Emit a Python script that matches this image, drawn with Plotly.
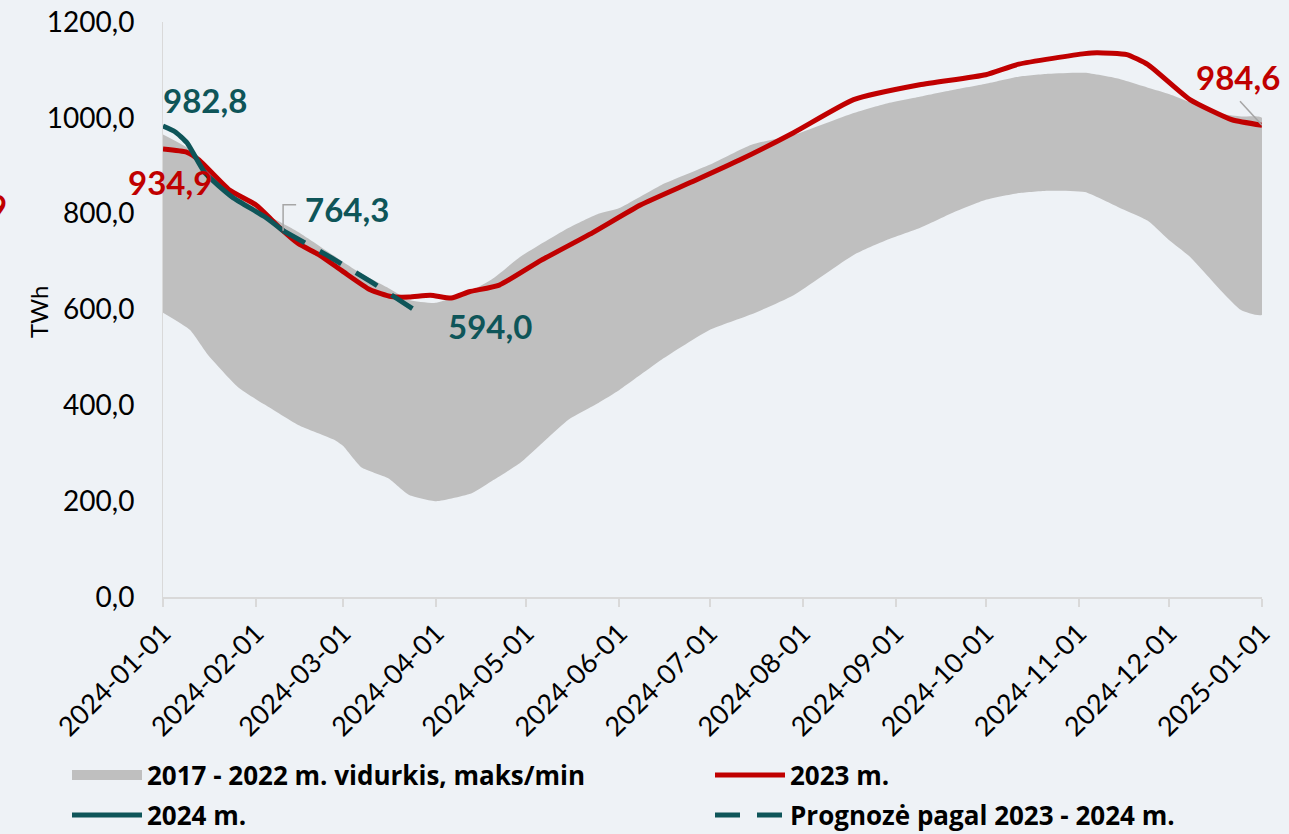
import plotly.graph_objects as go

# ---- data ----
band_dates = ["2024-01-01","2024-01-10","2024-01-16","2024-01-26","2024-02-04","2024-02-15",
              "2024-02-27","2024-03-01","2024-03-07","2024-03-16","2024-03-23","2024-04-01",
              "2024-04-13","2024-04-20","2024-04-29","2024-05-15","2024-05-25","2024-06-01",
              "2024-06-15","2024-07-01","2024-07-15","2024-07-29","2024-08-18","2024-08-29",
              "2024-09-09","2024-09-20","2024-10-01","2024-10-12","2024-10-22","2024-11-03",
              "2024-11-14","2024-11-24","2024-12-01","2024-12-08","2024-12-19","2024-12-25",
              "2025-01-01"]
band_max = [965, 933, 875, 835, 800, 762,
            712, 699, 675, 645, 620, 614,
            640, 665, 710, 770, 800, 812,
            860, 902, 944, 964, 1010, 1030,
            1044, 1058, 1071, 1086, 1092, 1094,
            1082, 1063, 1050, 1033, 1008, 1003,
            1000]
band_min = [593, 557, 505, 438, 401, 359,
            328, 315, 271, 248, 213, 200,
            217, 244, 280, 370, 405, 432,
            495, 557, 590, 630, 714, 745,
            770, 802, 829, 843, 848, 845,
            814, 785, 745, 710, 635, 599,
            589]

y2023_dates = ["2024-01-01","2024-01-09","2024-01-13","2024-01-23","2024-02-01","2024-02-09",
               "2024-02-15","2024-02-22","2024-03-01","2024-03-10","2024-03-17","2024-03-23",
               "2024-03-30","2024-04-06","2024-04-12","2024-04-22","2024-05-06","2024-05-23",
               "2024-06-08","2024-06-25","2024-07-11","2024-07-29","2024-08-18","2024-09-09",
               "2024-10-01","2024-10-12","2024-11-03","2024-11-07","2024-11-17","2024-11-24",
               "2024-12-08","2024-12-22","2025-01-01"]
y2023 = [934.9, 928, 912, 850, 818, 770,
         738, 714, 679, 641, 627, 626,
         630, 624, 637, 651, 703, 760,
         818, 866, 912, 969, 1038, 1069,
         1090, 1112, 1134, 1136, 1132, 1111,
         1038, 996, 984.6]

y2024_dates = ["2024-01-01","2024-01-05","2024-01-09","2024-01-15","2024-01-24","2024-02-04","2024-02-10"]
y2024 = [982.8, 971, 948, 885, 835, 793, 764.3]

fc_dates = ["2024-02-10","2024-02-25","2024-03-11","2024-03-26"]
fc_values = [764.3, 712, 655, 594.0]

x_ticks = ["2024-%02d-01" % m for m in range(1, 13)] + ["2025-01-01"]
y_ticks = [0, 200, 400, 600, 800, 1000, 1200]
y_tick_text = ["%d,0" % v for v in y_ticks]

names = ["2017 - 2022 m. vidurkis, maks/min", "2023 m.", "2024 m.", "Prognozė pagal 2023 - 2024 m."]


def fmt(v):
    return ("%.1f" % v).replace(".", ",")


RED = "#C00000"
TEAL = "#0E5559"
GRAY = "#BFBFBF"
BG = "#EEF2F6"
FONT = "Lato"

# plot-area geometry in pixels
FW, FH = 1289, 834
L, R, T, B = 163, 27, 22, 237
W = FW - L - R
H = FH - T - B


def px(xp):
    return (xp - L) / W


def py(yp):
    return (FH - B - yp) / H


fig = go.Figure()
fig.add_trace(go.Scatter(
    x=band_dates + band_dates[::-1], y=band_max + band_min[::-1],
    fill="toself", fillcolor=GRAY, line=dict(width=0, color=GRAY, shape="spline", smoothing=0.5),
    mode="lines", showlegend=False, hoverinfo="skip"))
fig.add_trace(go.Scatter(x=y2023_dates, y=y2023, mode="lines", name=names[1], legend="legend2",
                         line=dict(color=RED, width=5, shape="spline", smoothing=0.5)))
fig.add_trace(go.Scatter(x=y2024_dates, y=y2024, mode="lines", name=names[2], legend="legend3",
                         line=dict(color=TEAL, width=5, shape="spline", smoothing=0.5)))
fig.add_trace(go.Scatter(x=fc_dates, y=fc_values, mode="lines", name=names[3], legend="legend4",
                         line=dict(color=TEAL, width=5, dash="25px,17px")))
# legend swatch for band
fig.add_trace(go.Scatter(x=[None], y=[None], mode="lines", name=names[0], legend="legend",
                         line=dict(color=GRAY, width=18)))

lab_font = dict(family=FONT, size=33, color=TEAL, weight="bold")
ann = []
ann.append(dict(x=y2024_dates[0], y=y2024[0], text=fmt(y2024[0]), showarrow=False,
                xshift=42, yshift=26, font=lab_font))
ann.append(dict(x=y2023_dates[0], y=y2023[0], text=fmt(y2023[0]), showarrow=False,
                xshift=7, yshift=-33, font=dict(lab_font, color=RED)))
ann.append(dict(x=fc_dates[0], y=fc_values[0], text=fmt(fc_values[0]), showarrow=False,
                xshift=64, yshift=22, font=lab_font))
ann.append(dict(x=fc_dates[-1], y=fc_values[-1], text=fmt(fc_values[-1]), showarrow=False,
                xshift=72, yshift=-14, font=lab_font))
ann.append(dict(x=y2023_dates[-1], y=y2023[-1], text=fmt(y2023[-1]), showarrow=False,
                xshift=-24, yshift=48, font=dict(lab_font, color=RED)))
ann.append(dict(xref="paper", yref="paper", x=px(9), y=py(206),
                xanchor="right", yanchor="middle", text="9", showarrow=False,
                font=dict(lab_font, color=RED)))
ann.append(dict(xref="paper", yref="paper", x=px(38), y=py(312),
                xanchor="center", yanchor="middle",
                text="TWh", textangle=-90, showarrow=False,
                font=dict(family=FONT, size=24, color="black")))

shapes = [
    dict(type="path", xref="x", yref="y", xsizemode="pixel", ysizemode="pixel",
         xanchor=fc_dates[0], yanchor=fc_values[0], path="M 0 0 L 0 26 L 13 26",
         line=dict(color="#A6A6A6", width=1.5)),
    dict(type="path", xref="x", yref="y", xsizemode="pixel", ysizemode="pixel",
         xanchor=y2023_dates[-1], yanchor=y2023[-1], path="M 0 0 L -22 24",
         line=dict(color="#A6A6A6", width=1.5)),
]

leg_font = dict(family="Open Sans", size=26, weight="bold", color="black")


def leg(xp, yp):
    return dict(orientation="v", xref="paper", yref="container",
                x=px(xp), y=1 - yp / FH, xanchor="left", yanchor="middle",
                font=leg_font, bgcolor="rgba(0,0,0,0)", itemwidth=70, borderwidth=0)


fig.update_layout(
    width=FW, height=FH,
    margin=dict(l=L, r=R, t=T, b=B),
    paper_bgcolor=BG, plot_bgcolor=BG,
    font=dict(family=FONT, color="black"),
    annotations=ann, shapes=shapes,
    showlegend=True,
    legend=leg(67, 775),
    legend2=leg(710, 775),
    legend3=leg(67, 815),
    legend4=leg(710, 815),
)
fig.update_xaxes(range=["2024-01-01", "2025-01-01"], tickvals=x_ticks, ticktext=x_ticks,
                 tickangle=-45, tickfont=dict(family=FONT, size=27, color="black"),
                 showgrid=False, zeroline=False, showline=True, linecolor="#D9D9D9", linewidth=1.5,
                 ticks="outside", ticklen=8, tickcolor="#D9D9D9", tickwidth=1.5, automargin=False)
fig.update_yaxes(range=[0, 1200], tickvals=y_ticks, ticktext=y_tick_text,
                 tickfont=dict(family=FONT, size=28, color="black"),
                 showgrid=False, zeroline=False, showline=True, linecolor="#D9D9D9", linewidth=1,
                 ticks="", ticklabelstandoff=22, automargin=False)

fig.write_html("out.html", config={"displayModeBar": False},
               post_script="document.body.style.margin='0';document.body.style.overflow='hidden';"
                           "document.body.style.background='%s';" % BG)
